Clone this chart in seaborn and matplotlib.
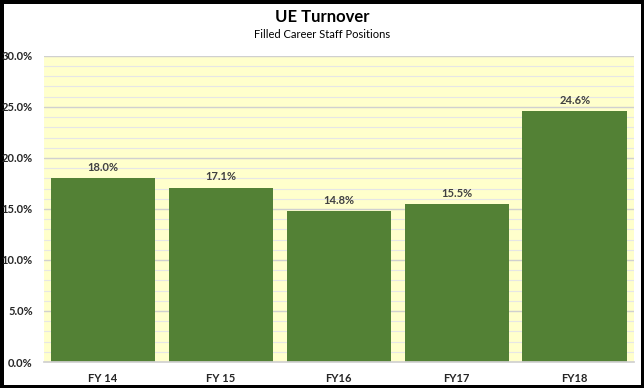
import matplotlib
matplotlib.use("Agg")
import matplotlib.pyplot as plt
import numpy as np
import pandas as pd
import seaborn as sns

years = ["FY 14", "FY 15", "FY16", "FY17", "FY18"]
turnover = [18.0, 17.1, 14.8, 15.5, 24.6]

df = pd.DataFrame({"year": years, "turnover": turnover})

sns.set_theme(style="white")
plt.rcParams["font.family"] = ["Lato", "DejaVu Sans"]

fig = plt.figure(figsize=(6.44, 3.88), dpi=100)
fig.patch.set_edgecolor("black")
fig.patch.set_linewidth(5)
ax = fig.add_axes([0.068, 0.067, 0.916, 0.789])
ax.set_facecolor("#ffffcc")

# minor and major grid lines
for v in np.arange(1, 30.5, 1):
    major = v % 5 == 0
    ax.axhline(v, color="#d0d0d0" if major else "#e6e6e6", lw=1.0 if major else 0.8, zorder=0)

sns.barplot(data=df, x="year", y="turnover", color="#538135", saturation=1,
            width=0.885, linewidth=0, ax=ax, zorder=2)

for i, v in enumerate(turnover):
    ax.text(i, v + 0.5, f"{v:.1f}%", ha="center", va="bottom", fontsize=8,
            fontweight="bold", color="#404040")

ax.set_ylim(0, 30)
ax.set_yticks(np.arange(0, 31, 5))
ax.set_yticklabels([f"{t:.1f}%" for t in np.arange(0, 31, 5)], fontsize=8,
                   fontweight="bold", color="#262626")
ax.set_xticks(range(len(years)))
ax.set_xticklabels(years, fontsize=8, fontweight="bold", color="#262626")
ax.tick_params(axis="both", length=0, pad=8)
ax.set_xlabel("")
ax.set_ylabel("")
for s in ["top", "right", "left"]:
    ax.spines[s].set_visible(False)
ax.spines["bottom"].set_color("#d0d0d0")

fig.text(0.5, 0.955, "UE Turnover", ha="center", va="center", fontsize=12,
         fontweight="bold", color="black")
fig.text(0.5, 0.91, "Filled Career Staff Positions", ha="center", va="center",
         fontsize=8, color="black")

fig.savefig("out.png", dpi=100, edgecolor=fig.get_edgecolor())
